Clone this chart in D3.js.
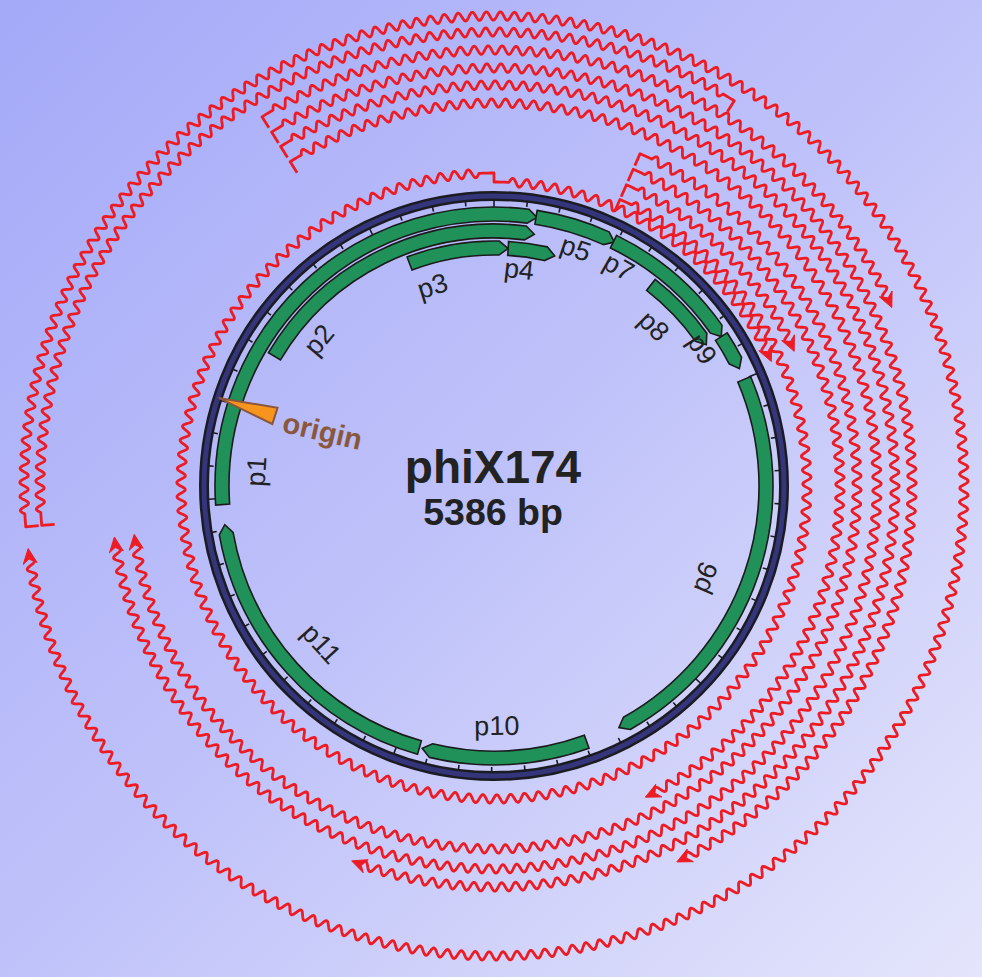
<!DOCTYPE html>
<html><head><meta charset="utf-8">
<script src="https://cdn.jsdelivr.net/npm/d3@7"></script>
<style>html,body{margin:0;padding:0;overflow:hidden;background:#b8bcf8}svg{display:block}</style>
</head><body>
<script>
// ---------------- data ----------------
const genomeLength = 5386;
const titleText = "phiX174";
const subtitleText = "5386 bp";
const geneNames   = ["p1","p2","p3","p4","p5","p6","p7","p8","p9","p10","p11"];
const geneStart   = [3981,4497,5075,  51, 133,1001, 390, 568, 848,2395,2931];
const geneEnd     = [ 136, 136,  51, 221, 393,2284, 848, 843, 964,2922,3917];
const geneLane    = [0,1,2,2,0,0,0,1,0,0,0];
const geneLabelBp = [4092,4636,5130,99,284,1697,444,673,847,2683,3405];
const originBp = 4305;
const originText = "origin";
const tickMinorStep = 100;
const tickMajorStep = 1000;
// transcripts (promoter -> end), cumulative bp (end may wrap past genome length)
const txStart   = [355, 355, 355, 355, 4905, 4905, 4905, 4905, 3965, 3965];
const txEnd     = [985+5386, 985, 2305, 3925, 3925+5386, 3004+5386, 2305+5386, 985+5386, 478+5386, 3925+5386];
const txLane    = [0,1,2,3,4,5,6,7,8,9];
const txEndMark = ["arrow","arrow","arrow","arrow","arrow","arrow","arrow","arrow","bar","arrow"];

// ---------------- layout ----------------
const W = 982, H = 977, cx = 494, cy = 486;
const ringOuter = 294, ringInner = 286;
const geneLaneRadii = [[265,279],[248,262],[231,245]];
const geneLabelRadius = [238,228,209,218,251,229,252,226,249,240,234];
const txLaneRadius = [313,329,346,363,383,401,418,436,454,470];
const lap2Shift = -9;
const red = "#ed1c24";

const ang = d3.scaleLinear().domain([0, genomeLength]).range([0, 2*Math.PI]);
const pt = (r, a) => [cx + r*Math.sin(a), cy - r*Math.cos(a)];

const svg = d3.select("body").append("svg").attr("width", W).attr("height", H);
const defs = svg.append("defs");
const grad = defs.append("linearGradient").attr("id","bg").attr("x1","0").attr("y1","0").attr("x2","1").attr("y2","1");
grad.append("stop").attr("offset","0").attr("stop-color","#a4a9f8");
grad.append("stop").attr("offset","0.5").attr("stop-color","#bfc2f9");
grad.append("stop").attr("offset","1").attr("stop-color","#e4e5fb");
svg.append("rect").attr("width",W).attr("height",H).attr("fill","url(#bg)");

// ---------------- transcripts ----------------
const AMP = 4.2, WAVE = 14, STEM = 13, LEAD = 13, STEPLEAD = 15;
const ARW_L = 15, ARW_W = 7, ARW_K = 5;
const line = d3.line();
const gT = svg.append("g");

function arcPts(r, a0, a1) {
  const n = Math.max(2, Math.ceil(Math.abs(a1-a0)*r/2));
  return d3.range(n+1).map(i => pt(r, a0 + (a1-a0)*i/n));
}
function wavePts(r, a0, a1) {
  const S = (a1-a0)*r;
  const cycles = Math.max(1, Math.round(S/WAVE));
  const N = Math.ceil(S*2);
  return d3.range(N+1).map(i => {
    const s = S*i/N;
    return pt(r + AMP*Math.sin(2*Math.PI*cycles*i/N), a0 + s/r);
  });
}
txStart.forEach((s, i) => {
  const r = txLaneRadius[txLane[i]];
  const a0 = ang(s), a1 = ang(txEnd[i]);
  const isArrow = txEndMark[i] === "arrow";
  const endGap = isArrow ? (ARW_L-ARW_K) : LEAD;
  let pts = [pt(r-STEM, a0)];
  pts = pts.concat(arcPts(r, a0, a0 + LEAD/r));
  let rEnd = r;
  if (txEnd[i] - s > genomeLength) {
    const aStep = ang(Math.ceil(s/genomeLength)*genomeLength);
    const r2 = r + lap2Shift;
    pts = pts.concat(wavePts(r, a0 + LEAD/r, aStep - STEPLEAD/r));
    pts = pts.concat(arcPts(r, aStep - STEPLEAD/r, aStep));
    pts = pts.concat(arcPts(r2, aStep, aStep + STEPLEAD/r2));
    pts = pts.concat(wavePts(r2, aStep + STEPLEAD/r2, a1 - endGap/r2));
    rEnd = r2;
  } else {
    pts = pts.concat(wavePts(r, a0 + LEAD/r, a1 - endGap/r));
  }
  if (!isArrow) {
    pts = pts.concat(arcPts(rEnd, a1 - LEAD/rEnd, a1));
    pts.push(pt(rEnd - STEM, a1));
  }
  gT.append("path").attr("d", line(pts)).attr("fill","none").attr("stroke",red)
    .attr("stroke-width",2.8).attr("stroke-linejoin","round").attr("stroke-linecap","butt");
  if (isArrow) {
    const P = pt(rEnd, a1);
    const t = [Math.cos(a1), Math.sin(a1)], nr = [Math.sin(a1), -Math.cos(a1)];
    const head = [
      P,
      [P[0]-ARW_L*t[0]+ARW_W*nr[0], P[1]-ARW_L*t[1]+ARW_W*nr[1]],
      [P[0]-(ARW_L-ARW_K)*t[0], P[1]-(ARW_L-ARW_K)*t[1]],
      [P[0]-ARW_L*t[0]-ARW_W*nr[0], P[1]-ARW_L*t[1]-ARW_W*nr[1]]
    ];
    gT.append("path").attr("d", line(head)+"Z").attr("fill",red).attr("stroke",red)
      .attr("stroke-width",1).attr("stroke-linejoin","round");
  }
});

// ---------------- backbone ring ----------------
const gR = svg.append("g");
const ringR = (ringOuter+ringInner)/2;
gR.append("circle").attr("cx",cx).attr("cy",cy).attr("r",ringR).attr("fill","none")
  .attr("stroke","#1b1b22").attr("stroke-width",ringOuter-ringInner+2);
gR.append("circle").attr("cx",cx).attr("cy",cy).attr("r",ringR).attr("fill","none")
  .attr("stroke","#35357c").attr("stroke-width",ringOuter-ringInner-3);
const ticks = d3.range(0, genomeLength, tickMinorStep);
gR.selectAll("line.tick").data(ticks).enter().append("line")
  .attr("x1", d => pt(ringInner, ang(d))[0]).attr("y1", d => pt(ringInner, ang(d))[1])
  .attr("x2", d => pt(ringInner - (d % tickMajorStep === 0 ? 9 : 5), ang(d))[0])
  .attr("y2", d => pt(ringInner - (d % tickMajorStep === 0 ? 9 : 5), ang(d))[1])
  .attr("stroke","#1b1b22").attr("stroke-width",1.6);

// ---------------- genes ----------------
const gG = svg.append("g");
function genePath(s, e, ri, ro) {
  if (e < s) e += genomeLength;
  const a0 = ang(s), a1 = ang(e);
  const rm = (ri+ro)/2;
  let ab = a1 - 9/rm; if (ab < a0) ab = a0;
  const p = d3.path();
  p.moveTo(...pt(ro, a0));
  p.arc(cx, cy, ro, a0 - Math.PI/2, ab - Math.PI/2, false);
  p.lineTo(...pt(rm, a1));
  p.lineTo(...pt(ri, ab));
  p.arc(cx, cy, ri, ab - Math.PI/2, a0 - Math.PI/2, true);
  p.closePath();
  return p.toString();
}
geneNames.forEach((nm, i) => {
  const [ri, ro] = geneLaneRadii[geneLane[i]];
  gG.append("path").attr("d", genePath(geneStart[i], geneEnd[i], ri, ro))
    .attr("fill","#1f9159").attr("stroke","#1b1b1b").attr("stroke-width",1.6).attr("stroke-linejoin","miter");
});
geneNames.forEach((nm, i) => {
  const a = ang(geneLabelBp[i]);
  const [x, y] = pt(geneLabelRadius[i], a);
  let deg = a*180/Math.PI;
  let rot = (deg > 90 && deg < 270) ? deg - 180 : (deg >= 270 ? deg - 360 : deg);
  gG.append("text").attr("transform", `translate(${x},${y}) rotate(${rot})`)
    .attr("text-anchor","middle").attr("dominant-baseline","central")
    .attr("font-family","'Liberation Sans', Arial, sans-serif").attr("font-size",27)
    .attr("fill","#222").text(nm);
});

// ---------------- origin ----------------
const ao = ang(originBp);
const tip = pt(ringOuter-5, ao), bc = pt(230, ao);
const nn = [Math.cos(ao), Math.sin(ao)];
svg.append("path").attr("d", line([tip, [bc[0]+8.5*nn[0], bc[1]+8.5*nn[1]], [bc[0]-8.5*nn[0], bc[1]-8.5*nn[1]]]) + "Z")
  .attr("fill","#f7941d").attr("stroke","#8a573c").attr("stroke-width",2).attr("stroke-linejoin","miter");
const ol = pt(180, ao);
svg.append("text").attr("transform", `translate(${ol[0]},${ol[1]}) rotate(13)`)
  .attr("text-anchor","middle").attr("dominant-baseline","central")
  .attr("font-family","'Liberation Sans', Arial, sans-serif").attr("font-weight","bold")
  .attr("font-size",29).attr("fill","#8a573c").text(originText);

// ---------------- title ----------------
svg.append("text").attr("x",493).attr("y",483).attr("text-anchor","middle")
  .attr("font-family","'Liberation Sans', Arial, sans-serif").attr("font-weight","bold")
  .attr("font-size",46).attr("fill","#222").text(titleText);
svg.append("text").attr("x",493).attr("y",525).attr("text-anchor","middle")
  .attr("font-family","'Liberation Sans', Arial, sans-serif").attr("font-weight","bold")
  .attr("font-size",37.5).attr("fill","#222").text(subtitleText);
</script>
</body></html>
